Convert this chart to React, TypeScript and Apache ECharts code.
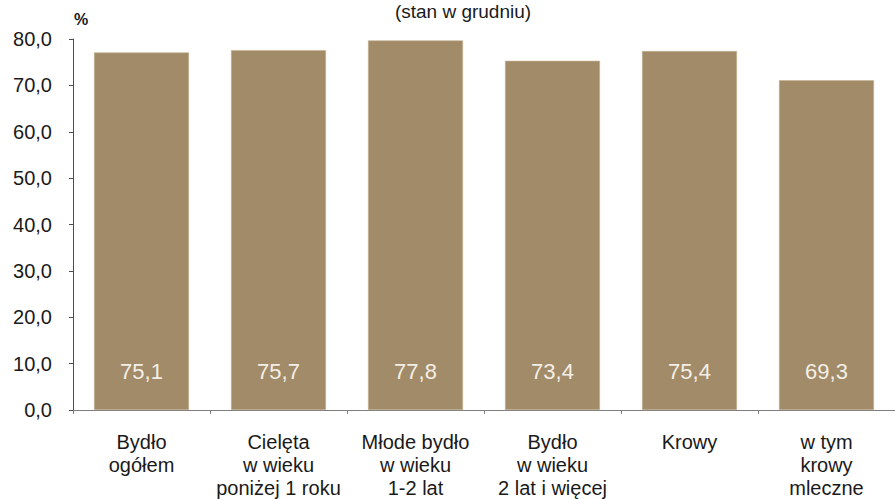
import React, { useEffect, useRef } from "react";
import * as echarts from "echarts";

const categories = [
  "Bydło\nogółem",
  "Cielęta\nw wieku\nponiżej 1 roku",
  "Młode bydło\nw wieku\n1-2 lat",
  "Bydło\nw wieku\n2 lat i więcej",
  "Krowy",
  "w tym\nkrowy\nmleczne",
];
// bar heights as drawn in the reference
const barHeights = [77.1, 77.6, 79.7, 75.3, 77.4, 71.1];
// value labels printed inside the bars
const valueLabels = ["75,1", "75,7", "77,8", "73,4", "75,4", "69,3"];
const yTicks = { min: 0, max: 80, interval: 10 };
const titleText = "(stan w grudniu)";
const unitText = "%";

const FONT = "'Liberation Sans', Arial, sans-serif";

export default function App() {
  const ref = useRef<HTMLDivElement>(null);
  useEffect(() => {
    if (!ref.current) return;
    const chart = echarts.init(ref.current, null, { renderer: "svg" });
    chart.setOption({
      animation: false,
      backgroundColor: "#ffffff",
      grid: { left: 73, top: 39, bottom: 88, right: -5, containLabel: false },
      graphic: [
        {
          type: "text",
          x: 463,
          y: 11,
          style: {
            text: titleText,
            fill: "#1a1a1a",
            font: `19px ${FONT}`,
            textAlign: "center",
            textVerticalAlign: "middle",
          },
        },
        {
          type: "text",
          x: 81,
          y: 19,
          style: {
            text: unitText,
            fill: "#1a1a1a",
            font: `bold 16px ${FONT}`,
            textAlign: "center",
            textVerticalAlign: "middle",
          },
        },
      ],
      xAxis: {
        type: "category",
        data: categories,
        axisLine: { show: true, lineStyle: { color: "#7f7f7f", width: 1 } },
        axisTick: { show: true, length: 4, inside: false, lineStyle: { color: "#7f7f7f" } },
        axisLabel: {
          interval: 0,
          margin: 20,
          color: "#1a1a1a",
          fontFamily: FONT,
          fontSize: 20,
          lineHeight: 23,
          align: "center",
          verticalAlign: "top",
        },
        splitLine: { show: false },
      },
      yAxis: {
        type: "value",
        min: yTicks.min,
        max: yTicks.max,
        interval: yTicks.interval,
        axisLine: { show: true, lineStyle: { color: "#4d4d4d", width: 1 } },
        axisTick: { show: true, length: 4, lineStyle: { color: "#4d4d4d" } },
        splitLine: { show: false },
        axisLabel: {
          margin: 21,
          color: "#1a1a1a",
          fontFamily: FONT,
          fontSize: 20,
          formatter: (v: number) => v.toFixed(1).replace(".", ","),
        },
      },
      series: [
        {
          type: "bar",
          data: barHeights,
          barWidth: 95,
          itemStyle: { color: "#A28B69", borderColor: "#C2B090", borderWidth: 0.6 },
          label: {
            show: true,
            position: "insideBottom",
            distance: 28,
            color: "#F4EFE6",
            fontFamily: FONT,
            fontSize: 22,
            formatter: (p: any) => valueLabels[p.dataIndex],
          },
        },
      ],
    });
    return () => chart.dispose();
  }, []);
  return (
    <div
      ref={ref}
      style={{ position: "absolute", left: 0, top: 0, width: 895, height: 499 }}
    />
  );
}
